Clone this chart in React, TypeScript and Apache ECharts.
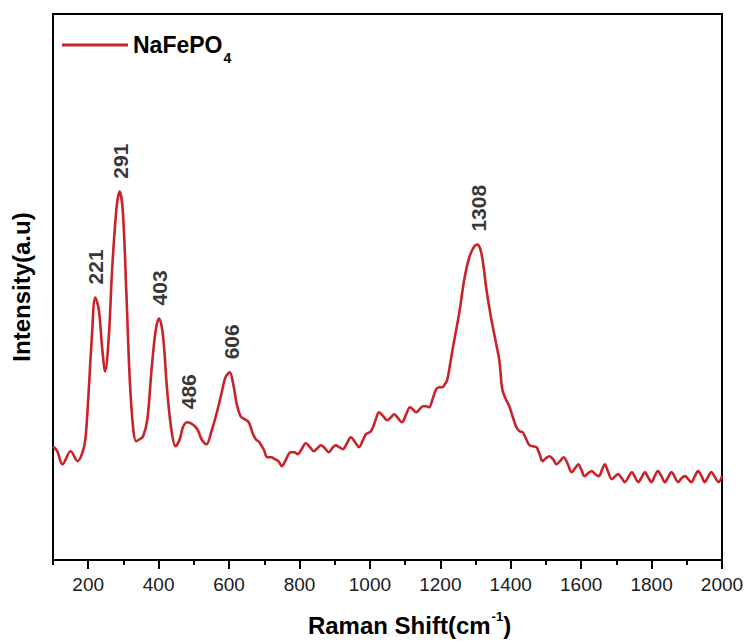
import React, { useEffect, useRef } from "react";
import * as echarts from "echarts";

// Raman shift (cm^-1) and intensity (a.u.)
const ramanShift: number[] = [
  100, 112, 127, 150, 170, 184, 192, 200, 210, 220, 230, 240, 248, 258, 268, 280, 289, 298, 308, 318,
  328, 336, 346, 356, 368, 380, 392, 401, 412, 424, 436, 448, 460, 470, 482, 496, 510, 522, 536, 550,
  564, 578, 590, 602, 612, 622, 633, 645, 656, 666, 676, 686, 698, 709, 720, 730, 740, 750, 762, 775,
  785, 795, 806, 818, 830, 841, 851, 861, 872, 883, 893, 903, 913, 923, 935, 946, 958, 969, 980, 989,
  1003, 1015, 1026, 1038, 1049, 1060, 1069, 1080, 1091, 1103, 1114, 1122, 1131, 1141, 1151, 1160, 1168, 1178, 1188, 1197,
  1205, 1213, 1220, 1230, 1240, 1254, 1268, 1282, 1296, 1305, 1314, 1322, 1331, 1345, 1359, 1368, 1376, 1386, 1396, 1406,
  1416, 1425, 1434, 1444, 1453, 1463, 1473, 1482, 1490, 1500, 1510, 1520, 1530, 1540, 1550, 1562, 1573, 1583, 1592, 1601,
  1610, 1620, 1630, 1640, 1650, 1660, 1667, 1677, 1687, 1697, 1705, 1715, 1724, 1734, 1744, 1753, 1762, 1772, 1781, 1790,
  1800, 1809, 1818, 1828, 1838, 1847, 1857, 1866, 1875, 1885, 1895, 1904, 1913, 1923, 1932, 1942, 1951, 1960, 1970, 1980,
  1990, 2000,
];
const intensity: number[] = [
  114, 109, 96, 109, 99, 108, 121, 161, 221, 263, 251, 211, 189, 221, 291, 351, 369, 351, 271, 181,
  131, 119, 121, 124, 141, 191, 231, 242, 226, 171, 131, 114, 121, 134, 138, 136, 131, 121, 116, 129,
  146, 166, 183, 188, 176, 156, 144, 141, 138, 128, 121, 118, 111, 103, 103, 101, 99, 94, 101, 108,
  108, 106, 111, 117, 113, 109, 112, 115, 112, 108, 112, 115, 113, 111, 117, 123, 118, 113, 120, 126,
  129, 139, 148, 144, 140, 143, 146, 142, 138, 146, 153, 151, 148, 151, 154, 154, 153, 161, 171, 173,
  173, 176, 181, 201, 221, 248, 281, 303, 314, 316, 311, 296, 271, 241, 216, 199, 171, 161, 154, 143,
  133, 129, 128, 121, 115, 114, 113, 106, 99, 102, 104, 101, 96, 99, 103, 96, 88, 92, 96, 90,
  84, 87, 89, 86, 84, 91, 96, 88, 81, 84, 86, 82, 78, 83, 88, 83, 78, 83, 88, 83,
  78, 84, 89, 84, 78, 83, 88, 83, 78, 82, 84, 81, 78, 84, 89, 84, 78, 83, 88, 83,
  78, 84,
];

// Annotated peaks
const peakShift: number[] = [221, 291, 403, 486, 606, 1308];
const peakIntensity: number[] = [263, 369, 242, 138, 188, 316];

// X axis ticks
const majorTicks: number[] = [200, 400, 600, 800, 1000, 1200, 1400, 1600, 1800, 2000];
const minorTicks: number[] = [100, 300, 500, 700, 900, 1100, 1300, 1500, 1700, 1900];

const seriesName = "NaFePO4";
const FONT = "'Liberation Sans', Arial, Helvetica, sans-serif";
const RED = "#C8232B";

export default function App() {
  const ref = useRef<HTMLDivElement>(null);

  useEffect(() => {
    if (!ref.current) return;
    const chart = echarts.init(ref.current, undefined, { renderer: "svg" });
    const lineData = ramanShift.map((x, i) => [x, intensity[i]]);
    const peakData = peakShift.map((x, i) => ({ name: String(x), value: [x, peakIntensity[i]] }));

    chart.setOption({
      animation: false,
      backgroundColor: "#ffffff",
      textStyle: { fontFamily: FONT },
      grid: {
        left: 53,
        right: 25,
        top: 14,
        bottom: 81,
        show: true,
        borderColor: "#000",
        borderWidth: 2,
      },
      legend: {
        show: true,
        left: 57,
        top: 28,
        data: [seriesName],
        icon: "rect",
        itemWidth: 66,
        itemHeight: 3,
        itemGap: 6,
        formatter: () => "{a|NaFePO}{b|4}",
        textStyle: {
          rich: {
            a: { fontSize: 23, fontWeight: "bold", color: "#000", fontFamily: FONT, lineHeight: 24, verticalAlign: "top" },
            b: { fontSize: 14, fontWeight: "bold", color: "#000", fontFamily: FONT, lineHeight: 14, padding: [18, 0, 0, 1], verticalAlign: "top" },
          },
        },
      },
      xAxis: [
        {
          type: "value",
          min: 100,
          max: 2000,
          interval: 100,
          name: "{a|Raman Shift(cm}{s|-1}{a|)}",
          nameLocation: "middle",
          nameGap: 49,
          nameTextStyle: {
            padding: [0, 0, 0, 44],
            rich: {
              a: { fontSize: 24, fontWeight: "bold", color: "#000", fontFamily: FONT, lineHeight: 28, verticalAlign: "bottom" },
              s: { fontSize: 13, fontWeight: "bold", color: "#000", fontFamily: FONT, lineHeight: 13, padding: [0, 0, 14, 1], verticalAlign: "bottom" },
            },
          },
          axisLine: { show: true, lineStyle: { color: "#000", width: 2 } },
          axisTick: { show: true, customValues: minorTicks, length: 5, lineStyle: { color: "#000", width: 2 } },
          axisLabel: { show: false },
          splitLine: { show: false },
        },
        {
          type: "value",
          min: 100,
          max: 2000,
          position: "bottom",
          axisLine: { show: false },
          axisTick: { show: true, customValues: majorTicks, length: 9, lineStyle: { color: "#000", width: 2 } },
          axisLabel: {
            show: true,
            customValues: majorTicks,
            formatter: (v: number) => String(v),
            margin: 15,
            fontSize: 19,
            color: "#1a1a1a",
            fontFamily: FONT,
          },
          splitLine: { show: false },
        },
      ],
      yAxis: {
        type: "value",
        min: 0,
        max: 547,
        name: "Intensity(a.u)",
        nameLocation: "middle",
        nameGap: 20,
        nameTextStyle: { fontSize: 24, fontWeight: "bold", color: "#000", fontFamily: FONT },
        axisLine: { show: true, lineStyle: { color: "#000", width: 2 } },
        axisTick: { show: false },
        axisLabel: { show: false },
        splitLine: { show: false },
      },
      series: [
        {
          name: seriesName,
          type: "line",
          data: lineData,
          smooth: 0.35,
          showSymbol: false,
          symbol: "none",
          lineStyle: { color: RED, width: 2.6 },
          itemStyle: { color: RED },
          z: 3,
        },
        {
          name: "peaks",
          type: "scatter",
          data: peakData,
          symbolSize: 0,
          silent: true,
          label: {
            show: true,
            position: "top",
            distance: 13,
            rotate: 90,
            align: "left",
            verticalAlign: "middle",
            formatter: (p: any) => p.name,
            fontSize: 21,
            fontWeight: "bold",
            color: "#000",
            fontFamily: FONT,
          },
          z: 4,
        },
      ],
    });

    return () => chart.dispose();
  }, []);

  return (
    <div
      ref={ref}
      style={{ position: "fixed", left: 0, top: 0, width: 747, height: 642, background: "#fff" }}
    />
  );
}
